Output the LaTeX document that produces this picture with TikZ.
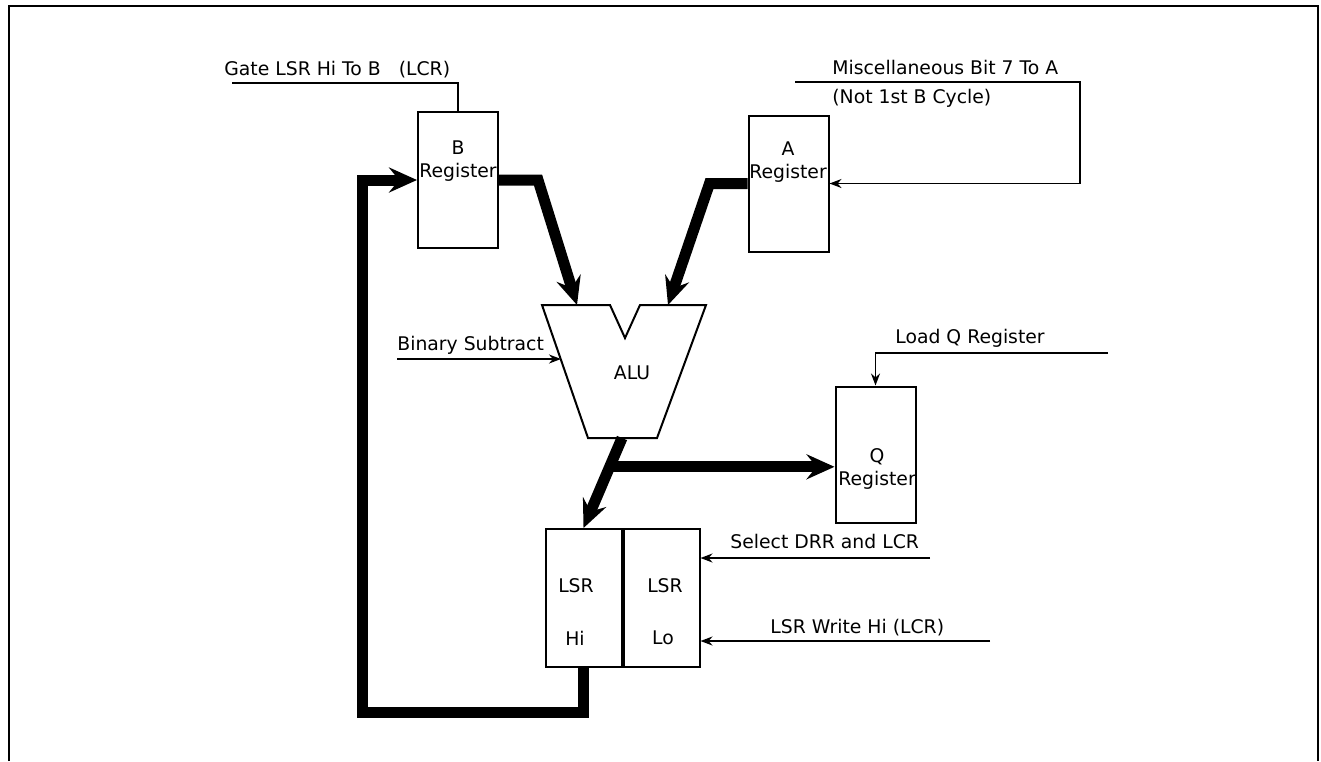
\documentclass[tikz,border=0pt]{standalone}
\usepackage{fontspec}
\setmainfont{DejaVu Sans}
\usetikzlibrary{arrows.meta,calc}

\begin{document}
\begin{tikzpicture}[
    x=0.5pt, y=-0.5pt,
    font=\fontsize{9.4}{11.5}\selectfont,
    reg/.style={draw, line width=1pt, minimum width=40pt, minimum height=68pt, inner sep=0pt},
    lsr/.style={draw, line width=1pt, minimum width=38pt, minimum height=69pt, inner sep=0pt},
    txt/.style={inner sep=0pt, align=center},
    lbl/.style={inner sep=0pt, anchor=base west},
    bus/.style={line width=5.5pt, -{Stealth[length=14pt,width=12.5pt,inset=5pt]}},
    sig/.style={line width=0.9pt, -{Stealth[length=6pt,width=4.5pt]}},
]
  \useasboundingbox (0,0) rectangle (1321,761);
  % frame, open at the bottom
  \draw[line width=1pt] (9,761) -- (9,6) -- (1318,6) -- (1318,761);

  % registers
  \node[reg] (breg) at (458,180) {};
  \node[txt] (bregt) at (458,161) {B\\Register};
  \node[reg] (areg) at (788.5,183.5) {};
  \node[txt] (aregt) at (788,162) {A\\Register};
  \node[reg] (qreg) at (875.5,454.5) {};
  \node[txt] (qregt) at (877,469) {Q\\Register};
  \node[lsr] (lsrhi) at (583.5,598) {};
  \node[lsr, anchor=west] (lsrlo) at (lsrhi.east) {};
  \node[txt] (hit1) at (576,586) {LSR};
  \node[txt] (hit2) at (575,638) {Hi};
  \node[txt] (lot1) at (665,586) {LSR};
  \node[txt] (lot2) at (663,638) {Lo};

  % ALU
  \draw[line width=1pt] (542,305) -- (610,305) -- (625,338) -- (640,305)
    -- (706,305) -- (657,438) -- (588,438) -- cycle;
  \node[txt] (alu) at (632,373) {ALU};
  \coordinate (bin) at (577,305);
  \coordinate (ain) at (668,305);
  \coordinate (alubot) at (622,438);
  \coordinate (subout) at (561,359);
  \coordinate (fork) at ($(alubot)!0.32!(lsrhi.north)$);
  \coordinate (loopbot) at (362,712);

  % data paths
  \draw[bus] (breg.east) -- ++(39,0) -- (bin);
  \draw[bus] (areg.west) -- ++(-38,0) -- (ain);
  \draw[bus] (alubot) -- (lsrhi.north);
  \draw[bus] (fork) -- (fork -| qreg.west);
  \draw[bus] (lsrhi.south) |- (loopbot) |- (breg.west);

  % control lines
  \coordinate (gatein) at (232,83);
  \coordinate (subin) at (397,359);
  \coordinate (miscin) at (795,82);
  \coordinate (misccorner) at (1080,82);
  \coordinate (loadin) at (1108,353);
  \coordinate (selin) at (930,558);
  \coordinate (wrin) at (990,641);
  \draw[sig, -] (gatein) -| (breg.north);
  \draw[sig] (subin) -- (subout);
  \draw[sig] (miscin) -- (misccorner) |- (areg.east);
  \draw[sig] (loadin) -| (qreg.north);
  \draw[sig] (selin) -- (selin -| lsrlo.east);
  \draw[sig] (wrin) -- (wrin -| lsrlo.east);

  \node[lbl] (gatelbl) at (224,75) {Gate LSR Hi To B\ \ \ (LCR)};
  \node[lbl] (sublbl) at (397,350) {Binary Subtract};
  \node[lbl] (misclbl) at (832,74) {Miscellaneous Bit 7 To A};
  \node[lbl] (notlbl) at (832,103) {(Not 1st B Cycle)};
  \node[lbl] (loadlbl) at (895,343) {Load Q Register};
  \node[lbl] (sellbl) at (730,548) {Select DRR and LCR};
  \node[lbl] (wrlbl) at (770,633) {LSR Write Hi (LCR)};
\end{tikzpicture}
\end{document}
